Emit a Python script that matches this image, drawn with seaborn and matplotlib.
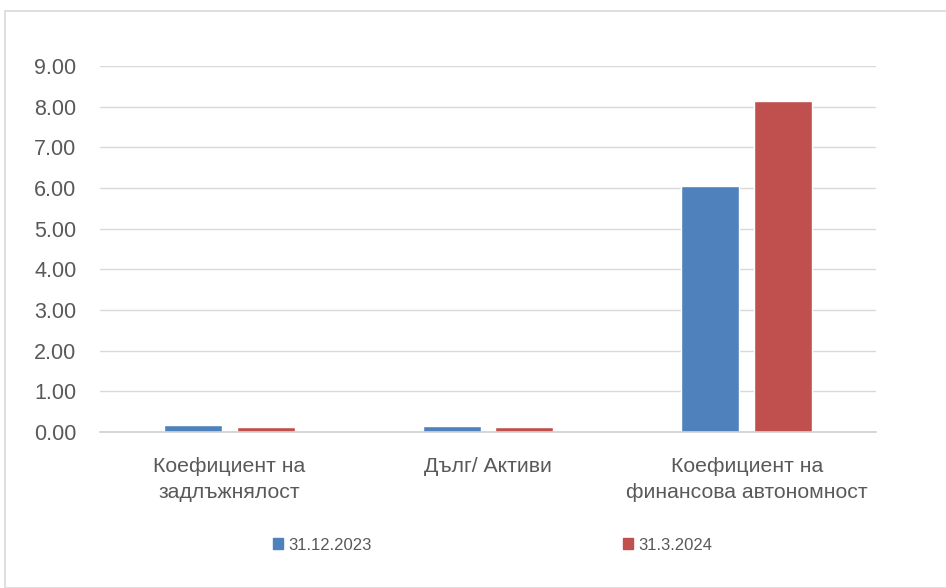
import matplotlib
matplotlib.use("Agg")
import matplotlib.pyplot as plt
import matplotlib.patches as mpatches
import seaborn as sns
import pandas as pd

categories = ["Коефициент на\nзадлъжнялост", "Дълг/ Активи", "Коефициент на\nфинансова автономност"]
series_names = ["31.12.2023", "31.3.2024"]
values_2023 = [0.17, 0.15, 6.05]
values_2024 = [0.12, 0.12, 8.14]
y_ticks = [0, 1, 2, 3, 4, 5, 6, 7, 8, 9]

colors = ["#4F81BD", "#C0504D"]

df = pd.DataFrame({
    "cat": categories * 2,
    "series": [series_names[0]] * 3 + [series_names[1]] * 3,
    "value": values_2023 + values_2024,
})

sns.set_style("white")
plt.rcParams['font.family'] = ['Liberation Sans', 'DejaVu Sans']

W, H = 946, 588
fig = plt.figure(figsize=(W / 100, H / 100), dpi=100)
ax = fig.add_axes([100 / W, (H - 432) / H, 776 / W, (432 - 66) / H])

sns.barplot(data=df, x="cat", y="value", hue="series", palette=colors,
            width=0.564, gap=0.205, ax=ax, legend=False, saturation=1,
            order=categories, hue_order=series_names)

ax.set_ylim(0, 9)
ax.set_xlim(-0.5, 2.5)
ax.set_yticks(y_ticks)
ax.set_yticklabels([f"{v:.2f}" for v in y_ticks])
ax.set_xticks(range(len(categories)))
ax.set_xticklabels(categories, linespacing=1.5, va="top")
ax.yaxis.grid(True, color="#d9d9d9", linewidth=1)
ax.set_axisbelow(True)
for s in ["top", "right", "left"]:
    ax.spines[s].set_visible(False)
ax.spines["bottom"].set_color("#d0d0d0")
ax.spines["bottom"].set_linewidth(1.2)
ax.tick_params(axis="y", length=0, labelsize=15.5, colors="#595959", pad=17)
ax.tick_params(axis="x", length=0, labelsize=15.3, colors="#595959", pad=18)
ax.set_xlabel("")
ax.set_ylabel("")

handles = [mpatches.Patch(color=c, label=n) for c, n in zip(colors, series_names)]
leg = fig.legend(handles=handles, loc="center", bbox_to_anchor=(492.5 / W, (H - 545) / H),
                 ncol=2, frameon=False, handlelength=0.6, handleheight=0.6,
                 handletextpad=0.3, columnspacing=15.1, fontsize=12)
for t in leg.get_texts():
    t.set_color("#595959")

fig.patches.append(mpatches.Rectangle((5 / W, 0), 1.2, (H - 11) / H, transform=fig.transFigure,
                                      fill=False, edgecolor="#d9d9d9", linewidth=1.2))

fig.savefig("out.png", dpi=100, facecolor="white")
